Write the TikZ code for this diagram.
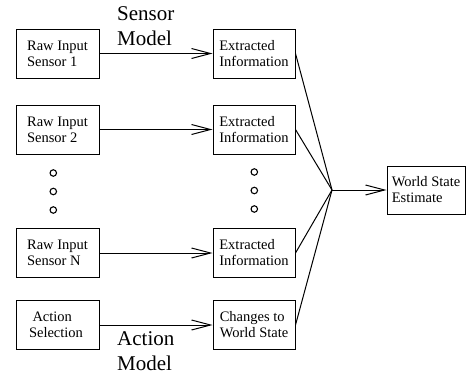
\documentclass[tikz,border=0pt]{standalone}
\usepackage{fontspec}
\setmainfont{Liberation Serif}
\usetikzlibrary{arrows.meta}
\tikzset{
  box/.style={draw, line width=1pt, minimum width=83pt, minimum height=49pt,
    inner sep=0pt, align=left, font=\fontsize{14.5}{16}\selectfont},
  midbox/.style={box, minimum width=82pt},
  bigtext/.style={inner sep=0pt, align=left, anchor=north west,
    font=\fontsize{21}{25}\selectfont},
  link/.style={line width=1pt},
  flow/.style={link, -{Straight Barb[length=19pt,width=10pt]}},
  ellip/.style={draw, line width=1.1pt, circle, minimum size=6.5pt, inner sep=0pt}
}
\begin{document}
\begin{tikzpicture}[x=1pt, y=-1pt]
  \useasboundingbox (0,0) rectangle (466,375);

  % raw inputs
  \node[box] (r1) at (57.5,53.5) {Raw Input\\Sensor 1};
  \node[box] (r2) at (57.5,129.5) {Raw Input\\Sensor 2};
  \node[box] (rn) at (57.5,253) {Raw Input\\Sensor N};
  \node[box] (act) at (57.5,325) {\hspace*{3.5pt}Action\\Selection\hspace*{3pt}};

  % extracted information
  \node[midbox] (e1) at (254,53.5) {Extracted\\Information};
  \node[midbox] (e2) at (254,129.5) {Extracted\\Information};
  \node[midbox] (en) at (254,253) {Extracted\\Information};
  \node[midbox] (chg) at (254,325) {Changes to\\World State};

  % world state
  \node[box, minimum width=78pt, minimum height=48pt] (ws) at (426,190) {World State\\Estimate};

  % ellipsis dots
  \foreach \y/\n in {173/a,191.5/b,210/c} {
    \node[ellip] (ld\n) at (53.3,\y) {};
  }
  \foreach \y/\n in {172/a,190.5/b,209/c} {
    \node[ellip] (md\n) at (254.3,\y) {};
  }

  % model labels
  \node[bigtext] (smodel) at (117,6.5) {Sensor\\Model};
  \node[bigtext] (amodel) at (117,331.5) {Action\\Model};

  % arrows into the extraction boxes
  \draw[flow] (r1) -- (e1);
  \draw[flow] (r2) -- (e2);
  \draw[flow] (rn) -- (en);
  \draw[flow] (act) -- (chg);

  % fusion into the world state estimate
  \coordinate (j) at (332,190);
  \foreach \b in {e1,e2,en,chg} {
    \draw[link] (\b.east) -- (j);
  }
  \draw[flow] (j) -- (ws.west);
\end{tikzpicture}
\end{document}
